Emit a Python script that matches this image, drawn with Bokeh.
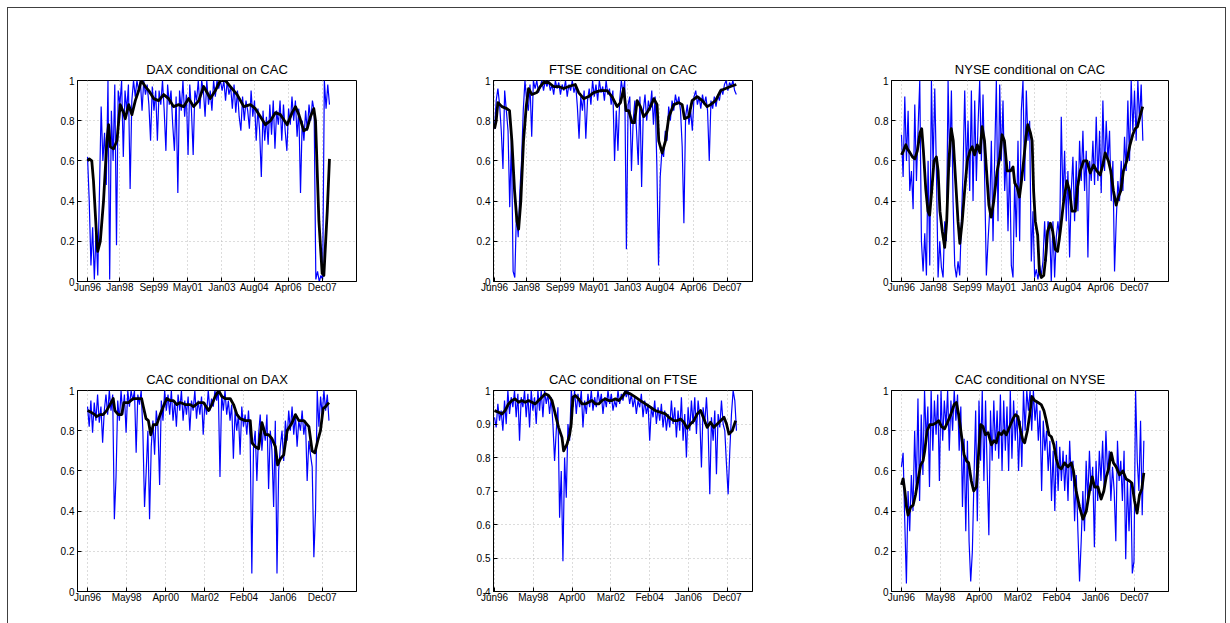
import numpy as np
from bokeh.plotting import figure
from bokeh.layouts import row, column
from bokeh.models import Range1d, FixedTicker, CustomJSTickFormatter
from bokeh.embed import file_html
from bokeh.resources import INLINE

# ---------------- tick labels ----------------
top_ticks = ["Jun96", "Jan98", "Sep99", "May01", "Jan03", "Aug04", "Apr06", "Dec07"]
bottom_ticks = ["Jun96", "May98", "Apr00", "Mar02", "Feb04", "Jan06", "Dec07"]
y_ticks_full = [0, 0.2, 0.4, 0.6, 0.8, 1]
y_ticks_p5 = [0.4, 0.5, 0.6, 0.7, 0.8, 0.9, 1]

# ---------------- data (months since Jun96) ----------------
dax_cac_blue = [0.62, 0.40, 0.08, 0.27, 0.01, 0.25, 0.03, 0.45, 0.87, 0.60, 0.74, 0.48, 1.00, 0.01, 0.85, 0.60, 0.98, 0.18, 0.95, 0.88,
                1.00, 0.62, 0.95, 0.85, 0.98, 0.46, 0.90, 1.00, 0.92, 1.00, 0.95, 1.00, 0.85, 1.00, 0.93, 0.98, 0.88, 0.70, 0.97, 0.85,
                0.95, 0.70, 0.95, 0.88, 1.00, 0.85, 0.65, 0.98, 0.88, 0.95, 0.78, 0.65, 0.92, 0.44, 0.95, 0.85, 1.00, 0.82, 0.93, 0.63,
                0.98, 0.85, 0.63, 0.95, 0.90, 1.00, 0.86, 1.00, 0.95, 0.82, 1.00, 0.88, 0.95, 0.85, 1.00, 0.92, 1.00, 0.96, 1.00, 0.95,
                1.00, 0.90, 1.00, 0.93, 0.97, 0.86, 0.98, 0.84, 0.95, 0.82, 0.75, 0.92, 0.80, 0.90, 0.85, 0.76, 0.95, 0.82, 0.90, 0.70,
                0.86, 0.75, 0.52, 0.85, 0.70, 0.82, 0.68, 0.88, 0.73, 0.90, 0.66, 0.85, 0.78, 0.90, 0.70, 0.88, 0.75, 0.65, 0.86, 0.78,
                0.92, 0.80, 0.90, 0.72, 0.86, 0.44, 0.80, 0.70, 0.85, 0.75, 0.88, 0.80, 0.90, 0.85, 0.01, 0.05, 0.00, 0.03, 0.01, 1.00,
                0.86, 0.98, 0.88]
dax_cac_trend_m = [0, 1, 2.5, 3.5, 5.5, 6, 7.5, 9.4, 11.4, 12.4, 13.4, 15.3, 17.3, 19.2, 21.2, 22.2, 24.2, 26.1, 28.1, 30.1,
                   31.6, 34, 36, 38.9, 41.8, 44.8, 47.7, 50.6, 53.6, 56.5, 59.5, 62.4, 65.4, 68.3, 70.3, 72.2, 75.2, 78.1, 81.1, 84,
                   88, 91.9, 95.8, 98.7, 101.7, 104.6, 107.6, 110.5, 113.5, 117.4, 120.3, 122.3, 124.3, 127.2, 129.2, 131.1, 133.1, 134.1, 136.1, 138,
                   139, 141, 142.3]
dax_cac_trend = [0.60, 0.61, 0.60, 0.50, 0.20, 0.15, 0.20, 0.40, 0.70, 0.78, 0.67, 0.66, 0.70, 0.88, 0.84, 0.81, 0.88, 0.83, 0.90, 0.95,
                 1.00, 0.97, 0.95, 0.91, 0.90, 0.93, 0.91, 0.87, 0.88, 0.87, 0.91, 0.87, 0.90, 0.97, 0.94, 0.91, 0.95, 1.00, 1.00, 0.97,
                 0.93, 0.87, 0.88, 0.86, 0.82, 0.78, 0.80, 0.84, 0.83, 0.78, 0.84, 0.87, 0.83, 0.75, 0.76, 0.82, 0.86, 0.80, 0.30, 0.04,
                 0.03, 0.35, 0.61]

ftse_cac_blue = [0.76, 0.90, 0.96, 0.88, 0.75, 0.56, 0.95, 0.85, 0.75, 0.37, 0.72, 0.05, 0.02, 0.35, 0.22, 0.45, 0.60, 0.85, 1.00, 0.90,
                 0.85, 0.98, 0.72, 1.00, 0.96, 1.00, 0.94, 0.97, 1.00, 0.95, 1.00, 0.97, 1.00, 0.95, 0.98, 0.93, 1.00, 0.96, 0.99, 0.93,
                 0.98, 0.95, 1.00, 0.92, 0.98, 0.95, 1.00, 0.94, 0.98, 0.87, 0.71, 0.92, 0.85, 0.95, 0.71, 0.90, 0.96, 0.88, 1.00, 0.92,
                 0.98, 0.90, 1.00, 0.94, 0.97, 0.90, 1.00, 0.93, 0.96, 0.88, 0.95, 0.60, 0.85, 0.65, 0.90, 1.00, 0.94, 1.00, 0.16, 0.88,
                 0.92, 0.55, 0.80, 0.90, 0.75, 0.58, 0.92, 0.47, 0.85, 0.93, 0.80, 0.90, 0.85, 0.95, 0.78, 0.92, 0.58, 0.08, 0.52, 0.65,
                 0.62, 0.75, 0.70, 0.87, 0.80, 0.90, 0.85, 0.93, 0.88, 0.92, 0.85, 0.67, 0.29, 0.82, 0.88, 0.78, 0.85, 0.75, 0.92, 0.95,
                 0.88, 0.92, 0.86, 0.93, 0.88, 0.92, 0.85, 0.60, 0.90, 0.86, 0.92, 0.87, 0.93, 0.90, 0.96, 0.93, 0.98, 1.00, 0.95, 0.99,
                 0.97, 1.00, 0.95, 0.93]
ftse_cac_trend_m = [0, 1, 2, 4.4, 7.3, 8.9, 10.3, 11.9, 13.3, 14.3, 15.6, 17.2, 18.8, 20.2, 22.2, 25.1, 27.1, 29.1, 32.1, 35,
                    38, 41, 44, 47.9, 49.9, 52.9, 55.8, 58.8, 62.8, 66.7, 69.7, 72.7, 74.7, 76.6, 78, 79.6, 81.6, 83, 84.6, 86.5,
                    88.5, 90.5, 92.5, 94.5, 96.4, 97.4, 98.4, 99.4, 101.4, 103.4, 106.3, 109.3, 111.3, 112.7, 115.2, 117.2, 120.2, 123.2, 126.1, 128.1,
                    131.1, 134.1, 137.1, 140, 143.4]
ftse_cac_trend = [0.76, 0.80, 0.89, 0.87, 0.86, 0.85, 0.70, 0.45, 0.30, 0.26, 0.40, 0.70, 0.87, 0.96, 0.93, 0.94, 0.97, 0.99, 0.99, 0.97,
                  0.97, 0.96, 0.97, 0.98, 0.94, 0.91, 0.92, 0.94, 0.95, 0.95, 0.92, 0.87, 0.89, 0.96, 0.85, 0.85, 0.79, 0.79, 0.90, 0.87,
                  0.82, 0.84, 0.87, 0.91, 0.88, 0.70, 0.67, 0.64, 0.70, 0.82, 0.88, 0.89, 0.88, 0.81, 0.82, 0.90, 0.92, 0.90, 0.87, 0.88,
                  0.90, 0.95, 0.96, 0.97, 0.98]

nyse_cac_blue = [0.73, 0.52, 0.92, 0.60, 0.85, 0.45, 0.55, 0.36, 0.88, 0.50, 0.76, 1.00, 0.20, 0.05, 0.24, 0.03, 0.60, 0.08, 1.00, 0.57,
                 0.96, 0.55, 0.02, 0.20, 0.07, 0.02, 0.30, 0.20, 1.00, 0.57, 0.95, 0.40, 0.08, 0.02, 0.10, 0.03, 0.30, 0.55, 0.95, 0.55,
                 0.80, 0.45, 0.95, 0.40, 0.90, 0.50, 0.78, 1.00, 0.60, 0.93, 0.50, 0.03, 0.20, 0.35, 0.70, 0.20, 0.62, 1.00, 0.30, 0.98,
                 0.60, 0.90, 0.45, 0.63, 0.25, 0.60, 0.08, 0.02, 0.50, 0.22, 0.70, 0.20, 0.85, 1.00, 0.50, 0.95, 0.70, 0.80, 0.10, 0.35,
                 0.02, 0.06, 0.01, 0.08, 0.03, 0.10, 0.30, 0.10, 0.30, 0.27, 0.00, 0.30, 0.02, 0.22, 0.30, 0.20, 0.82, 0.40, 0.65, 0.30,
                 0.55, 0.12, 0.45, 0.62, 0.30, 0.60, 0.35, 0.70, 0.50, 0.75, 0.45, 0.65, 0.12, 0.60, 0.50, 0.70, 0.48, 0.82, 0.50, 0.75,
                 0.44, 0.90, 0.55, 0.80, 0.60, 0.75, 0.40, 0.60, 0.05, 0.30, 0.50, 0.40, 0.60, 0.45, 0.72, 0.55, 0.90, 0.60, 1.00, 0.75,
                 0.95, 0.70, 1.00, 0.80, 0.98, 0.70]
nyse_cac_trend_m = [0, 1.2, 2.6, 3.5, 5.1, 6.5, 7.9, 9.4, 11, 12, 13, 14.4, 15.7, 16.7, 17.9, 19.3, 20.7, 21.7, 22.8, 24.2,
                    25.6, 26.8, 28.1, 29.5, 30.7, 32.1, 33.5, 34.6, 36, 37.4, 39, 40.6, 41.9, 43.3, 44.9, 46.5, 47.8, 49.2, 50.4, 51.8,
                    53.1, 54.7, 56.7, 58.3, 59.6, 61, 62.6, 64.6, 66.1, 67.1, 68.5, 69.9, 71.1, 72.4, 73.8, 74.8, 76.4, 77.4, 78.3, 79.3,
                    80.7, 81.7, 82.9, 84.3, 85.2, 86.6, 88.2, 89.6, 91.1, 92.5, 94.1, 96.1, 98, 99.6, 101, 103, 104.3, 105.9, 107.9, 109.8,
                    111.8, 113.8, 115.7, 117.7, 119.3, 120.7, 122.6, 124, 125.6, 127.2, 128.5, 129.9, 131.5, 133.5, 135.4, 137, 138.4, 139.8, 141.3, 142.9]
nyse_cac_trend = [0.63, 0.65, 0.68, 0.66, 0.64, 0.62, 0.61, 0.65, 0.74, 0.76, 0.65, 0.46, 0.35, 0.33, 0.45, 0.60, 0.62, 0.55, 0.35, 0.25,
                  0.17, 0.30, 0.60, 0.76, 0.70, 0.50, 0.30, 0.19, 0.30, 0.45, 0.60, 0.65, 0.67, 0.63, 0.68, 0.64, 0.77, 0.70, 0.55, 0.38,
                  0.32, 0.40, 0.55, 0.62, 0.73, 0.70, 0.55, 0.55, 0.57, 0.49, 0.47, 0.42, 0.50, 0.60, 0.72, 0.78, 0.74, 0.70, 0.45, 0.30,
                  0.23, 0.05, 0.02, 0.03, 0.10, 0.25, 0.29, 0.25, 0.16, 0.15, 0.25, 0.40, 0.50, 0.45, 0.35, 0.35, 0.47, 0.55, 0.60, 0.60,
                  0.54, 0.58, 0.55, 0.53, 0.58, 0.64, 0.60, 0.55, 0.45, 0.38, 0.42, 0.45, 0.55, 0.60, 0.68, 0.73, 0.76, 0.77, 0.82, 0.87]

cac_dax_blue = [0.92, 0.82, 0.95, 0.79, 0.94, 0.85, 0.98, 0.84, 0.92, 0.74, 0.90, 0.98, 0.88, 1.00, 0.90, 0.98, 0.36, 0.57, 0.95, 0.85,
                1.00, 0.88, 0.98, 0.79, 1.00, 0.92, 1.00, 0.95, 1.00, 0.69, 0.98, 0.93, 1.00, 0.80, 0.42, 0.60, 0.80, 0.36, 0.72, 0.85,
                0.68, 0.90, 0.82, 0.53, 0.95, 0.85, 1.00, 0.90, 0.98, 0.88, 1.00, 0.85, 0.95, 0.82, 0.98, 0.90, 1.00, 0.85, 0.95, 0.88,
                0.97, 0.80, 0.95, 0.90, 1.00, 0.86, 0.95, 0.88, 0.97, 0.78, 0.94, 0.88, 1.00, 0.90, 0.96, 0.92, 1.00, 0.95, 1.00, 0.57,
                0.98, 0.90, 1.00, 0.88, 0.95, 0.85, 0.93, 0.66, 0.90, 0.80, 0.88, 0.68, 0.92, 0.82, 0.88, 0.78, 0.90, 0.76, 0.09, 0.72,
                0.80, 0.55, 0.78, 0.88, 0.70, 0.82, 0.75, 0.88, 0.51, 0.80, 0.70, 0.42, 0.85, 0.09, 0.60, 0.72, 0.80, 0.65, 0.85, 0.75,
                0.90, 0.80, 0.92, 0.78, 0.88, 0.72, 0.85, 0.80, 0.90, 0.78, 0.85, 0.55, 0.75, 0.68, 0.62, 0.17, 0.40, 1.00, 0.82, 0.97,
                0.88, 1.00, 0.90, 0.98, 0.85]
cac_dax_trend_m = [0, 2.4, 4.3, 5.3, 7.3, 9.2, 11.2, 13.2, 15.1, 16.1, 18.1, 20.1, 21.4, 24, 26.9, 29.9, 31.8, 32.8, 34.4, 35.8,
                   37.2, 38.7, 40.7, 42.7, 44.6, 46.6, 48.6, 50.5, 52.5, 54.5, 57.4, 60.4, 62.3, 65.3, 68.2, 71.2, 73.1, 75.1, 77.1, 79,
                   81, 83.9, 85.9, 87.9, 89.8, 92.8, 95.7, 96.7, 98.7, 100.6, 102.6, 104.6, 106.5, 108.5, 110.5, 111.8, 113.4, 115.4, 117.4, 120.3,
                   122.3, 124.3, 127.2, 130.2, 132.1, 133.7, 135.4, 137, 138.6, 140, 142]
cac_dax_trend = [0.90, 0.89, 0.88, 0.87, 0.88, 0.88, 0.90, 0.93, 0.96, 0.90, 0.88, 0.88, 0.94, 0.94, 0.96, 0.96, 0.96, 0.92, 0.86, 0.85,
                 0.78, 0.83, 0.83, 0.88, 0.92, 0.96, 0.95, 0.95, 0.93, 0.94, 0.93, 0.93, 0.92, 0.94, 0.94, 0.90, 0.93, 0.97, 1.00, 0.97,
                 0.96, 0.96, 0.93, 0.88, 0.86, 0.85, 0.85, 0.74, 0.72, 0.71, 0.84, 0.78, 0.78, 0.76, 0.72, 0.63, 0.66, 0.68, 0.80, 0.84,
                 0.88, 0.85, 0.85, 0.82, 0.70, 0.69, 0.75, 0.80, 0.91, 0.92, 0.94]

cac_ftse_blue = [0.92, 0.89, 0.96, 0.91, 0.94, 0.88, 0.97, 0.90, 1.00, 0.93, 0.98, 0.95, 1.00, 0.92, 0.99, 0.85, 0.98, 0.95, 1.00, 0.92,
                 0.99, 0.89, 1.00, 0.94, 0.98, 0.90, 1.00, 0.94, 1.00, 0.92, 1.00, 0.96, 0.99, 0.93, 0.98, 0.90, 0.79, 0.88, 0.95, 0.62,
                 0.76, 0.49, 0.80, 0.68, 0.90, 0.85, 1.00, 0.95, 1.00, 0.93, 0.99, 0.95, 1.00, 0.89, 0.97, 0.93, 0.99, 0.95, 1.00, 0.94,
                 0.98, 0.95, 1.00, 0.96, 0.99, 0.93, 0.98, 0.95, 1.00, 0.96, 0.99, 0.94, 0.97, 0.95, 1.00, 0.96, 0.99, 0.97, 1.00, 0.98,
                 1.00, 0.96, 0.99, 0.95, 0.98, 0.93, 0.97, 0.95, 0.99, 0.92, 0.97, 0.93, 0.96, 0.85, 0.95, 0.92, 0.97, 0.90, 0.95, 0.91,
                 0.96, 0.89, 0.94, 0.88, 0.93, 0.89, 0.97, 0.90, 0.95, 0.86, 0.94, 0.88, 0.98, 0.85, 0.93, 0.80, 0.95, 0.88, 0.97, 0.90,
                 0.98, 0.87, 0.97, 0.92, 0.77, 0.95, 0.90, 0.98, 0.89, 0.69, 0.92, 0.85, 0.94, 0.75, 0.93, 0.89, 0.97, 0.90, 0.88, 0.78,
                 0.69, 0.82, 0.93, 1.00, 0.97, 0.88]
cac_ftse_trend_m = [0, 2.4, 4.4, 6.3, 8.3, 10.3, 12.3, 14.3, 16.2, 18.2, 20.2, 22.2, 24.2, 26.1, 28.1, 30.1, 32.1, 34.1, 36, 38,
                    40, 41, 43, 44.6, 45.5, 46.5, 47.9, 49.9, 51.9, 53.9, 55.8, 57.8, 59.8, 61.8, 63.8, 65.7, 67.7, 69.7, 71.7, 73.7,
                    75.6, 77.6, 80.6, 83.6, 86.5, 89.5, 92.5, 95.4, 98.4, 101.4, 103.4, 106.3, 108.3, 110.3, 112.3, 114.3, 116.2, 118.2, 120.2, 122.2,
                    124.2, 126.1, 128.1, 130.1, 132.1, 134.1, 136.1, 137.6, 139, 141, 143]
cac_ftse_trend = [0.94, 0.935, 0.93, 0.94, 0.96, 0.97, 0.975, 0.965, 0.97, 0.965, 0.97, 0.965, 0.96, 0.97, 0.98, 0.99, 0.985, 0.97, 0.93, 0.89,
                  0.86, 0.82, 0.84, 0.87, 0.90, 0.98, 0.985, 0.975, 0.96, 0.96, 0.965, 0.97, 0.96, 0.96, 0.97, 0.975, 0.97, 0.97, 0.975, 0.97,
                  0.98, 0.995, 0.99, 0.98, 0.97, 0.96, 0.95, 0.94, 0.935, 0.93, 0.92, 0.91, 0.91, 0.915, 0.905, 0.887, 0.90, 0.91, 0.93, 0.94,
                  0.915, 0.89, 0.905, 0.89, 0.90, 0.91, 0.92, 0.90, 0.87, 0.88, 0.91]

cac_nyse_blue = [0.62, 0.69, 0.35, 0.04, 0.50, 0.30, 0.58, 0.40, 0.80, 0.50, 0.96, 0.45, 0.88, 0.58, 1.00, 0.75, 0.92, 0.52, 1.00, 0.70,
                 0.95, 0.78, 0.98, 0.55, 1.00, 0.75, 0.95, 0.82, 1.00, 0.70, 0.95, 0.80, 1.00, 0.85, 0.98, 0.70, 0.92, 0.42, 0.76, 0.30,
                 0.75, 0.25, 0.05, 0.20, 0.57, 0.90, 0.35, 0.95, 0.65, 1.00, 0.55, 0.95, 0.60, 0.28, 0.90, 0.65, 0.95, 0.70, 0.90, 0.66,
                 0.98, 0.60, 0.95, 0.70, 0.92, 0.60, 1.00, 0.66, 0.95, 0.75, 0.90, 0.60, 0.85, 0.62, 1.00, 0.80, 1.00, 0.90, 1.00, 0.80,
                 1.00, 0.85, 0.95, 0.75, 0.90, 0.50, 0.85, 0.70, 0.80, 0.60, 0.75, 0.45, 0.70, 0.40, 0.75, 0.50, 0.72, 0.55, 0.70, 0.50,
                 0.68, 0.45, 0.75, 0.55, 0.65, 0.35, 0.58, 0.30, 0.05, 0.25, 0.50, 0.30, 0.65, 0.45, 0.70, 0.50, 0.62, 0.22, 0.65, 0.45,
                 0.70, 0.55, 0.75, 0.50, 0.80, 0.58, 0.70, 0.45, 0.62, 0.50, 0.25, 0.75, 0.55, 0.65, 0.45, 0.70, 0.16, 0.55, 0.30, 0.55,
                 0.09, 0.15, 1.00, 0.65, 0.50, 0.85, 0.38, 0.75]
cac_nyse_trend_m = [0, 1, 2, 3, 3.9, 5.5, 6.9, 8.3, 9.9, 11.4, 12.8, 13.8, 15.2, 16.8, 18.7, 20.7, 22.1, 23.7, 25.6, 27.2,
                    29.2, 31.2, 32.5, 33.9, 35.5, 37.1, 38.5, 39.8, 41.4, 42.8, 44.4, 45.8, 46.9, 48.3, 49.7, 51.3, 53.3, 54.8, 56.2, 57.6,
                    59.2, 60.7, 62.1, 64.1, 66.1, 67.5, 69, 70.6, 72, 73, 74.6, 76, 77.3, 78.9, 80.9, 82.8, 84.4, 85.8, 87.4, 88.8,
                    90.3, 91.7, 93.1, 94.7, 96.6, 98.6, 100.6, 101.9, 103.5, 105.5, 107.5, 109.5, 111.4, 113, 114.4, 116.4, 118.3, 119.9, 121.3, 122.7,
                    124.3, 125.6, 127.2, 129.2, 131.2, 133.1, 135.1, 136.5, 138.1, 139.6, 141, 142.4, 143.6]
cac_nyse_trend = [0.53, 0.56, 0.50, 0.42, 0.38, 0.42, 0.43, 0.48, 0.56, 0.63, 0.65, 0.70, 0.80, 0.83, 0.83, 0.84, 0.85, 0.82, 0.81, 0.84,
                  0.88, 0.93, 0.94, 0.88, 0.78, 0.68, 0.65, 0.64, 0.55, 0.50, 0.52, 0.70, 0.83, 0.82, 0.78, 0.79, 0.73, 0.75, 0.74, 0.79,
                  0.78, 0.80, 0.78, 0.82, 0.86, 0.88, 0.87, 0.80, 0.75, 0.74, 0.80, 0.88, 0.97, 0.95, 0.94, 0.93, 0.90, 0.85, 0.78, 0.77,
                  0.73, 0.66, 0.62, 0.61, 0.64, 0.62, 0.64, 0.60, 0.50, 0.42, 0.36, 0.40, 0.50, 0.57, 0.52, 0.52, 0.46, 0.50, 0.57, 0.61,
                  0.69, 0.64, 0.62, 0.58, 0.60, 0.56, 0.55, 0.54, 0.45, 0.39, 0.48, 0.51, 0.59]

titles = ["DAX conditional on CAC", "FTSE conditional on CAC", "NYSE conditional on CAC",
          "CAC conditional on DAX", "CAC conditional on FTSE", "CAC conditional on NYSE"]

MONTHS = {"Jan": 1, "Feb": 2, "Mar": 3, "Apr": 4, "May": 5, "Jun": 6,
          "Jul": 7, "Aug": 8, "Sep": 9, "Oct": 10, "Nov": 11, "Dec": 12}


def month_index(lbl):
    yy = int(lbl[3:])
    year = 1900 + yy if yy > 50 else 2000 + yy
    return (year - 1996) * 12 + MONTHS[lbl[:3]] - 6


FONT = "Liberation Sans"


def make_panel(title, blue, blue_end, tm, tv, ticks, xr, yr, yticks, fw, bl, br, bt, bb):
    p = figure(frame_width=fw, frame_height=201,
               min_border_left=bl, min_border_right=br, min_border_top=bt, min_border_bottom=bb,
               x_range=Range1d(*xr), y_range=Range1d(*yr),
               toolbar_location=None, output_backend="svg", title=title)
    p.background_fill_color = "white"
    p.border_fill_color = "white"
    p.outline_line_color = "black"
    p.outline_line_width = 1
    p.title.align = "center"
    p.title.text_font = FONT
    p.title.text_font_size = "13px"
    p.title.text_font_style = "normal"
    p.title.text_color = "black"
    p.title.standoff = 8

    bx = np.linspace(0, blue_end, len(blue))
    p.line(bx, blue, color="#0000ff", line_width=1.2)
    n = min(len(tm), len(tv))
    p.line(tm[:n], tv[:n], color="black", line_width=2.8, line_join="round")

    pos = [month_index(t) for t in ticks]
    p.xaxis.ticker = FixedTicker(ticks=pos)
    p.xaxis.formatter = CustomJSTickFormatter(args=dict(pos=pos, labs=ticks), code="""
        for (let i = 0; i < pos.length; i++) { if (Math.abs(pos[i] - tick) < 0.01) return labs[i]; }
        return '';
    """)
    p.yaxis.ticker = FixedTicker(ticks=yticks)
    p.yaxis.formatter = CustomJSTickFormatter(code="return String(Math.round(tick * 10) / 10);")

    for ax in (p.xaxis, p.yaxis):
        ax.major_tick_in = 4
        ax.major_tick_out = 0
        ax.minor_tick_in = 0
        ax.minor_tick_out = 0
        ax.axis_line_color = "black"
        ax.major_tick_line_color = "black"
        ax.major_label_text_font = FONT
        ax.major_label_text_font_size = "10px"
        ax.major_label_text_color = "black"
    p.xaxis.major_label_standoff = 0
    p.yaxis.major_label_standoff = 3

    p.grid.grid_line_color = "#b8b8b8"
    p.grid.grid_line_dash = "1 3"
    p.grid.grid_line_width = 1
    return p


wide = (-5.9, 158.2)
narrow = (-0.6, 153.0)

p1 = make_panel(titles[0], dax_cac_blue, 142.3, dax_cac_trend_m, dax_cac_trend, top_ticks, wide, (0, 1), y_ticks_full, 279, 69, 74, 72, 49)
p2 = make_panel(titles[1], ftse_cac_blue, 143.4, ftse_cac_trend_m, ftse_cac_trend, top_ticks, narrow, (0, 1), y_ticks_full, 259, 63, 78, 72, 49)
p3 = make_panel(titles[2], nyse_cac_blue, 143.0, nyse_cac_trend_m, nyse_cac_trend, top_ticks, wide, (0, 1), y_ticks_full, 277, 61, 57, 72, 49)
p4 = make_panel(titles[3], cac_dax_blue, 142.0, cac_dax_trend_m, cac_dax_trend, bottom_ticks, wide, (0, 1), y_ticks_full, 279, 69, 74, 60, 32)
p5 = make_panel(titles[4], cac_ftse_blue, 143.5, cac_ftse_trend_m, cac_ftse_trend, bottom_ticks, narrow, (0.4, 1), y_ticks_p5, 259, 63, 78, 60, 32)
p6 = make_panel(titles[5], cac_nyse_blue, 143.6, cac_nyse_trend_m, cac_nyse_trend, bottom_ticks, wide, (0, 1), y_ticks_full, 277, 61, 57, 60, 32)

layout = column(row(p1, p2, p3, spacing=0), row(p4, p5, p6, spacing=0), spacing=0,
                margin=(7, 0, 0, 7), styles={"border": "1px solid #404040"})

open("out.html", "w").write(file_html(layout, INLINE))
